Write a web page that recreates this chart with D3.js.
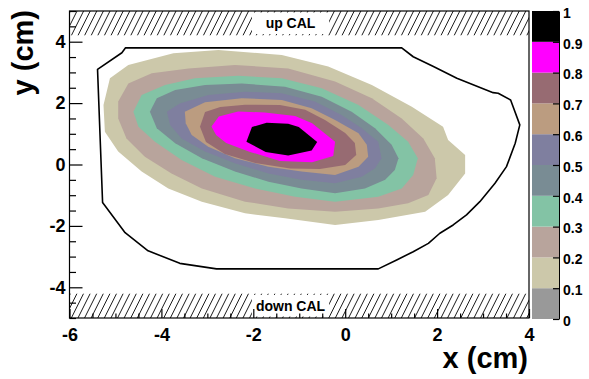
<!DOCTYPE html>
<html><head><meta charset="utf-8">
<script src="https://cdn.jsdelivr.net/npm/d3@7"></script>
<style>
body{margin:0;background:#fff}
svg{display:block}
text{font-family:"Liberation Sans",Arial,Helvetica,sans-serif;font-weight:bold;fill:#000}
</style>
</head><body>
<svg id="c" width="589" height="379"></svg>
<script>
// ---------- data ----------
const xTicks = [-6, -4, -2, 0, 2, 4];
const yTicks = [-4, -2, 0, 2, 4];
const zTicks = [0, 0.1, 0.2, 0.3, 0.4, 0.5, 0.6, 0.7, 0.8, 0.9, 1];
const zTickLabels = ["0", "0.1", "0.2", "0.3", "0.4", "0.5", "0.6", "0.7", "0.8", "0.9", "1"];
const levels = [0.1, 0.2, 0.3, 0.4, 0.5, 0.6, 0.7, 0.8, 0.9];
const bandColors = ["#999999", "#ccc8aa", "#b8a49c", "#83c3a5", "#798c94", "#7f7f9f", "#bb9c80", "#976b72", "#ff00ff", "#000000"];

const contour10 = [[-5.26,1.94],[-5.12,2.81],[-4.72,3.24],[-3.74,3.62],[-2.76,3.73],[-1.38,3.57],[-0.37,3.19],[0.58,2.59],[1.45,1.88],[2.13,1.23],[2.24,0.80],[2.61,0.31],[2.61,-0.29],[2.24,-0.99],[1.74,-1.54],[0.72,-1.81],[-0.22,-1.97],[-1.31,-1.75],[-2.18,-1.59],[-3.12,-1.21],[-3.85,-0.78],[-4.43,-0.23],[-4.94,0.42],[-5.23,1.07]];
const contour20 = [[-4.94,2.05],[-4.72,2.64],[-4.21,2.97],[-3.41,3.13],[-2.40,3.24],[-1.24,3.13],[-0.22,2.70],[0.58,2.16],[1.23,1.50],[1.70,0.85],[1.95,0.20],[1.99,-0.45],[1.81,-0.99],[1.37,-1.26],[0.72,-1.43],[-0.22,-1.54],[-1.24,-1.43],[-2.18,-1.21],[-3.12,-0.78],[-3.78,-0.29],[-4.36,0.25],[-4.76,0.85],[-4.94,1.50]];
const contour30 = [[-4.61,1.72],[-4.43,2.26],[-3.92,2.59],[-3.27,2.81],[-2.33,2.89],[-1.38,2.81],[-0.51,2.48],[0.29,1.94],[0.94,1.29],[1.37,0.74],[1.58,0.20],[1.48,-0.34],[1.23,-0.78],[0.72,-1.05],[-0.22,-1.21],[-1.09,-1.05],[-1.96,-0.78],[-2.83,-0.40],[-3.56,0.15],[-4.14,0.74],[-4.50,1.23]];
const contour40 = [[-4.25,1.72],[-4.10,2.16],[-3.70,2.43],[-3.05,2.59],[-2.25,2.64],[-1.31,2.53],[-0.51,2.21],[0.14,1.72],[0.65,1.18],[1.01,0.64],[1.16,0.20],[1.08,-0.18],[0.87,-0.50],[0.43,-0.78],[-0.22,-0.94],[-0.95,-0.78],[-1.67,-0.56],[-2.40,-0.23],[-3.12,0.20],[-3.70,0.69],[-4.10,1.18]];
const contour50 = [[-3.88,1.72],[-3.60,1.99],[-2.98,2.26],[-2.18,2.37],[-1.38,2.32],[-0.66,2.05],[-0.08,1.61],[0.36,1.18],[0.72,0.74],[0.79,0.20],[0.65,-0.12],[0.36,-0.40],[-0.22,-0.61],[-0.95,-0.50],[-1.67,-0.29],[-2.40,0.04],[-3.05,0.42],[-3.56,0.85],[-3.81,1.29]];
const contour60 = [[-3.49,1.72],[-3.05,2.03],[-2.25,2.16],[-1.38,2.10],[-0.73,1.83],[-0.22,1.45],[0.29,1.02],[0.47,0.64],[0.50,0.25],[0.29,-0.07],[-0.22,-0.34],[-0.95,-0.23],[-1.67,-0.07],[-2.40,0.20],[-2.98,0.58],[-3.34,0.96],[-3.47,1.34]];
const contour70 = [[-3.16,1.23],[-3.05,1.71],[-2.72,1.87],[-2.18,1.95],[-1.42,1.94],[-0.87,1.78],[-0.44,1.45],[0.00,1.03],[0.21,0.70],[0.24,0.31],[0.00,-0.02],[-0.55,-0.15],[-1.20,-0.13],[-1.96,0.05],[-2.62,0.34],[-3.03,0.73]];
const contour80 = [[-2.91,1.24],[-2.75,1.56],[-2.33,1.73],[-1.75,1.69],[-1.09,1.58],[-0.72,1.34],[-0.22,0.74],[-0.26,0.28],[-0.72,0.07],[-1.42,0.11],[-2.07,0.41],[-2.59,0.70],[-2.81,0.96]];
const contour90 = [[-2.15,0.74],[-2.03,1.22],[-1.71,1.36],[-1.24,1.33],[-1.01,1.22],[-0.61,0.73],[-0.73,0.46],[-1.24,0.29],[-1.73,0.41]];

const outline = [[-5.39,3.10],[-4.86,3.64],[-4.78,3.80],[1.23,3.80],[1.48,3.51],[1.92,3.19],[2.43,2.81],[3.22,2.34],[3.33,2.32],[3.60,2.10],[3.80,1.29],[3.70,0.69],[3.51,-0.07],[3.26,-0.61],[2.93,-1.21],[2.64,-1.64],[2.35,-1.97],[2.06,-2.24],[1.81,-2.57],[1.48,-2.84],[1.12,-3.11],[0.72,-3.40],[-2.80,-3.40],[-3.60,-3.22],[-4.29,-2.81],[-4.79,-2.22],[-5.28,-1.24]];

const calLabels = ["up CAL", "down CAL"];
const calYRanges = [[4.2, 5], [-5, -4.2]];
const calBoxX = [-2.03, -0.35];

// ---------- drawing ----------
const svg = d3.select("#c");
const defs = svg.append("defs");
const x = d3.scaleLinear().domain([-6, 4]).range([69.5, 529]);
const y = d3.scaleLinear().domain([-5, 5]).range([318, 11]);
const z = d3.scaleLinear().domain([0, 1]).range([319, 11]);

svg.append("rect").attr("width", 589).attr("height", 379).attr("fill", "#fff");

// contours
const contours = [contour10, contour20, contour30, contour40, contour50, contour60, contour70, contour80, contour90];
const line = d3.line().x(d => x(d[0])).y(d => y(d[1])).curve(d3.curveLinearClosed);
svg.append("g").selectAll("path").data(contours).join("path")
  .attr("d", line)
  .attr("fill", (d, i) => bandColors[i + 1]);

// outline
svg.append("path").datum(outline).attr("d", line)
  .attr("fill", "none").attr("stroke", "#000").attr("stroke-width", 1.6).attr("stroke-linejoin", "round");

// hatched CAL bands
calYRanges.forEach((r, i) => {
  const top = y(r[1]), bot = y(r[0]), h = bot - top;
  defs.append("clipPath").attr("id", "hc" + i).append("rect")
    .attr("x", x(-6)).attr("y", top).attr("width", x(4) - x(-6)).attr("height", h);
  const g = svg.append("g").attr("clip-path", `url(#hc${i})`);
  for (let px = x(-6) - h; px < x(4) + h; px += 6.6) {
    g.append("line").attr("x1", px).attr("y1", bot).attr("x2", px + 0.5 * h).attr("y2", top)
      .attr("stroke", "#000").attr("stroke-width", 0.9);
  }
  svg.append("rect").attr("x", x(calBoxX[0])).attr("y", top + 1.5)
    .attr("width", x(calBoxX[1]) - x(calBoxX[0])).attr("height", h - 3).attr("fill", "#fff");
  svg.append("text").attr("x", (x(calBoxX[0]) + x(calBoxX[1])) / 2).attr("y", (top + bot) / 2 + 5)
    .attr("text-anchor", "middle").attr("font-size", 14).text(calLabels[i]);
});

// frame
svg.append("rect").attr("x", x(-6)).attr("y", y(5)).attr("width", x(4) - x(-6)).attr("height", y(-5) - y(5))
  .attr("fill", "none").attr("stroke", "#000").attr("stroke-width", 1.2);

const fmt = d => String(d);
// x axis
const xg = svg.append("g").attr("transform", `translate(0,${y(-5)})`);
xg.call(d3.axisBottom(x).tickValues(xTicks).tickSizeInner(-9).tickSizeOuter(0).tickPadding(10).tickFormat(fmt));
const xMinor = d3.range(-6, 4.001, 0.5).filter(v => !xTicks.includes(v));
xg.append("g").call(d3.axisBottom(x).tickValues(xMinor).tickSizeInner(-4.5).tickSizeOuter(0).tickFormat(""));
// y axis
const yg = svg.append("g").attr("transform", `translate(${x(-6)},0)`);
yg.call(d3.axisLeft(y).tickValues(yTicks).tickSizeInner(-13).tickSizeOuter(0).tickPadding(4).tickFormat(fmt));
const yMinor = d3.range(-5, 5.001, 0.5).filter(v => !yTicks.includes(v));
yg.append("g").call(d3.axisLeft(y).tickValues(yMinor).tickSizeInner(-6.5).tickSizeOuter(0).tickFormat(""));
svg.selectAll(".domain").remove();
xg.selectAll("text").attr("font-size", 18).attr("font-family", null);
yg.selectAll("text").attr("font-size", 18).attr("font-family", null);
svg.selectAll(".tick line").attr("stroke", "#000").attr("stroke-width", 1.2);

// axis titles
svg.append("text").attr("x", 528).attr("y", 368).attr("text-anchor", "end").attr("font-size", 29).text("x (cm)");
svg.append("text").attr("transform", "translate(33,10) rotate(-90)").attr("text-anchor", "end").attr("font-size", 29).text("y (cm)");

// color bar
const barX0 = 532, barX1 = 559;
const zBands = d3.range(10).map(i => [zTicks[i], zTicks[i + 1]]);
svg.append("g").selectAll("rect").data(zBands).join("rect")
  .attr("x", barX0).attr("width", barX1 - barX0)
  .attr("y", d => z(d[1])).attr("height", d => z(d[0]) - z(d[1]))
  .attr("fill", (d, i) => bandColors[i]);
const zg = svg.append("g").attr("transform", `translate(${barX1},0)`);
zg.call(d3.axisRight(z).tickValues(zTicks).tickSizeInner(-6).tickSizeOuter(0).tickPadding(4)
  .tickFormat((d, i) => zTickLabels[i]));
zg.selectAll(".domain").attr("stroke", "#000");
zg.selectAll(".tick line").attr("stroke", "#000").attr("stroke-width", 1.2);
zg.selectAll("text").attr("font-size", 14).attr("font-family", null).attr("dy", "0.45em");
</script>
</body></html>
